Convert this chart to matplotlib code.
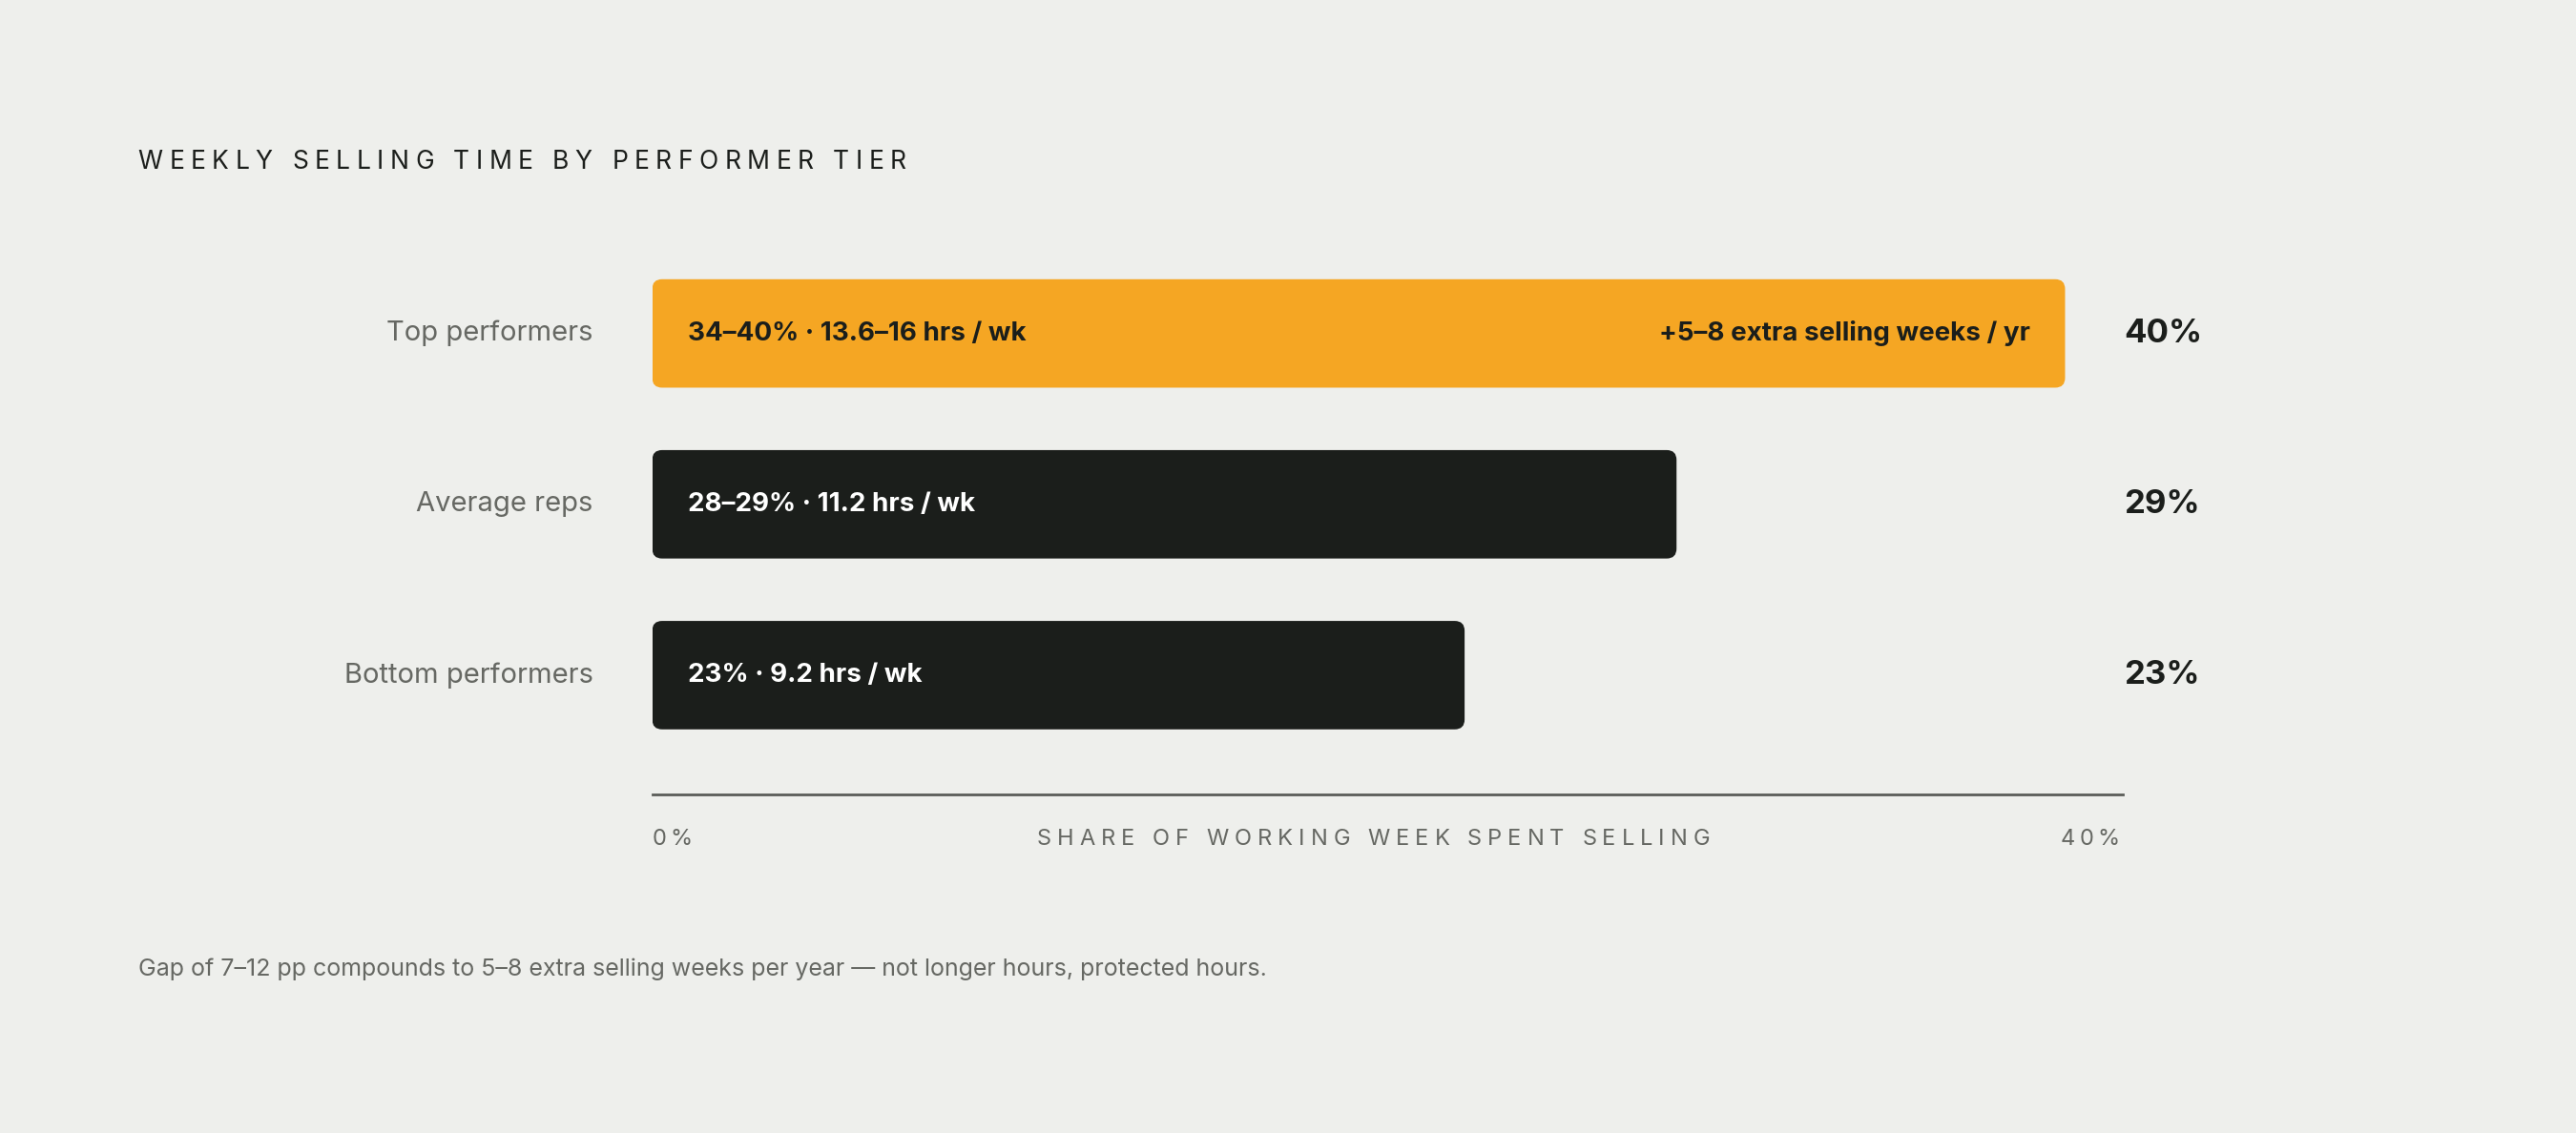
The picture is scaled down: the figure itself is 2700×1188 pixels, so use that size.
import matplotlib
matplotlib.use("Agg")
import matplotlib.pyplot as plt
from matplotlib.patches import FancyBboxPatch

plt.rcParams["font.family"] = ["Inter", "DejaVu Sans"]

categories = ["Top performers", "Average reps", "Bottom performers"]
values = [40, 29, 23]
inner_labels = ["34–40% · 13.6–16 hrs / wk", "28–29% · 11.2 hrs / wk", "23% · 9.2 hrs / wk"]
right_note = "+5–8 extra selling weeks / yr"
value_labels = ["40%", "29%", "23%"]

BG = "#EEEFEC"
ORANGE = "#F5A623"
DARK = "#1B1E1B"
GREY = "#666863"

W, H = 1568, 690  # layout reference grid
fig = plt.figure(figsize=(27, 11.88), dpi=100, facecolor=BG)
ax = fig.add_axes([397 / W, 1 - 484 / H, (1292 - 397) / W, (484 - 150) / H])
ax.set_facecolor(BG)
xmax = 40 * (1292 - 397) / (1257 - 397)
ax.set_xlim(0, xmax)
ax.set_ylim(2.70, -0.51)
for s in ["top", "right", "left"]:
    ax.spines[s].set_visible(False)
ax.spines["bottom"].set_color("#5a5c58")
ax.spines["bottom"].set_linewidth(2)
ax.set_xticks([])
ax.set_yticks([])

xpp = xmax / (1292 - 397)
ypp = 3.21 / (484 - 150)
h = 66 / 104
for i, (cat, v) in enumerate(zip(categories, values)):
    col = ORANGE if i == 0 else DARK
    tcol = DARK if i == 0 else "white"
    p = FancyBboxPatch((0, i - h / 2), v, h,
                       boxstyle=f"round,pad=0,rounding_size={6 * xpp}",
                       mutation_aspect=ypp / xpp, fc=col, ec="none")
    ax.add_patch(p)
    ax.text(22 * xpp, i, inner_labels[i], color=tcol, fontsize=20,
            fontweight="bold", va="center", ha="left")
    if i == 0:
        ax.text(v - 21 * xpp, i, right_note, color=tcol, fontsize=20,
                fontweight="bold", va="center", ha="right")
    ax.text(-36 * xpp, i, cat, color=GREY, fontsize=21, va="center", ha="right")
    ax.text(xmax + 1 * xpp, i, value_labels[i], color=DARK, fontsize=25,
            fontweight="bold", va="center", ha="left")

fig.canvas.draw()
renderer = fig.canvas.get_renderer()


def spaced(x, y, s, track, ha="left", **kw):
    # draw text char by char with letter spacing (fig pixels)
    widths = []
    arts = []
    for ch in s:
        t = fig.text(0, 0, ch if ch != " " else "\u00a0", **kw)
        w = t.get_window_extent(renderer).width
        if ch == " ":
            t2 = fig.text(0, 0, "a a", **kw)
            t3 = fig.text(0, 0, "aa", **kw)
            w = t2.get_window_extent(renderer).width - t3.get_window_extent(renderer).width
            t2.remove()
            t3.remove()
        widths.append(w)
        arts.append(t)
    total = sum(widths) + track * (len(s) - 1)
    figw = fig.bbox.width
    if ha == "center":
        x = x - total / 2
    elif ha == "right":
        x = x - total
    for t, w in zip(arts, widths):
        t.set_position((x / figw, y))
        x += w + track


S = 2700 / W
spaced(84 * S, 1 - 99 / H, "WEEKLY SELLING TIME BY PERFORMER TIER", 6.5,
       color=DARK, fontsize=19, va="center")
spaced(836 * S, 1 - 511 / H, "SHARE OF WORKING WEEK SPENT SELLING", 6,
       ha="center", color=GREY, fontsize=17, va="center")
spaced(397 * S, 1 - 511 / H, "0%", 4, color=GREY, fontsize=17, va="center")
spaced(1290 * S, 1 - 511 / H, "40%", 4, ha="right", color=GREY, fontsize=17, va="center")

fig.text(84 / W, 1 - 590 / H,
         "Gap of 7–12 pp compounds to 5–8 extra selling weeks per year — not longer hours, protected hours.",
         color=GREY, fontsize=18, va="center", ha="left")

fig.savefig("out.png", dpi=100, facecolor=BG)
